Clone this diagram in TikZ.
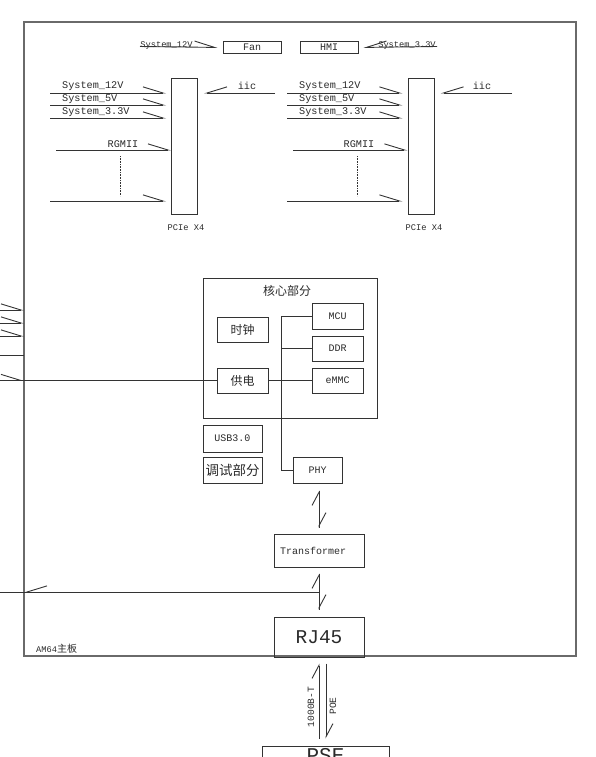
\documentclass[tikz,border=0pt]{standalone}
\usepackage{fontspec}
\setmonofont{Liberation Mono}
\newfontfamily\cjkfont{Noto Sans CJK SC}
\usetikzlibrary{arrows.meta}
\definecolor{linec}{HTML}{333333}
\definecolor{framec}{HTML}{6A6A6A}
\definecolor{txtc}{HTML}{2A2A2A}
\tikzset{
  wire/.style={draw=linec, line width=0.9pt},
  feed/.style={wire, -{Straight Barb[harpoon, length=20pt, angle'=34]}},
  feedr/.style={wire, -{Straight Barb[harpoon, swap, length=20pt, angle'=34]}},
  vfeed/.style={wire, -{Straight Barb[harpoon, length=13pt, angle'=56]}},
  box/.style={draw=linec, line width=1pt, inner sep=0pt, text=txtc,
    font=\ttfamily\fontsize{10}{12}\selectfont},
  lbl/.style={inner sep=0pt, text=txtc, font=\ttfamily\fontsize{10.2}{12}\selectfont},
  small/.style={lbl, font=\ttfamily\fontsize{8.7}{10}\selectfont},
  cjk/.style={inner sep=0pt, text=txtc, font=\cjkfont\fontsize{12}{14}\selectfont},
}
\begin{document}
\begin{tikzpicture}[x=1pt, y=-1pt]
  \useasboundingbox (0,0) rectangle (596,757);
  % Board outline
  \draw[framec, line width=1.6pt] (24,22) rectangle (576,656);
  \node[anchor=west, small] (board) at (36,649) {AM64{\cjkfont\fontsize{10}{12}\selectfont 主板}};
  % Fan and HMI
  \node[box, minimum width=58, minimum height=12] (fan) at (252,47.5) {Fan};
  \node[box, minimum width=58, minimum height=12] (hmi) at (329,47.5) {HMI};
  \node[small] (fanpwr) at (166.5,45) {System\_12V};
  \node[small] (hmipwr) at (407,45) {System\_3.3V};
  \draw[feed, shorten >=5pt] (140,46.5) -- (fan.west);
  \draw[feedr, shorten >=5pt] (437,46.5) -- (hmi.east);
  % PCIe slots
  \node[box, minimum width=26, minimum height=135] (pcieL) at (184.5,146.5) {};
  \node[box, minimum width=26, minimum height=135] (pcieR) at (421,146.5) {};
  \node[small] (pcieLlbl) at (186,228) {PCIe X4};
  \node[small] (pcieRlbl) at (424,228) {PCIe X4};
  \foreach \s/\x in {L/50, R/287} {
    \foreach \y in {93,105,118,201}
      \draw[feed, shorten >=5pt] (\x,\y) -- (pcie\s.west |- 0,\y);
    \draw[feed] (\x+6,150) -- (pcie\s.west |- 0,150);
    \draw[feedr, shorten >=6pt] (\x+225,93) -- (pcie\s.east |- 0,93);
  }
  \foreach \x/\s in {62/L, 299/R} {
    \node[lbl, anchor=west] (v12\s) at (\x,86) {System\_12V};
    \node[lbl, anchor=west] (v5\s) at (\x,99) {System\_5V};
    \node[lbl, anchor=west] (v33\s) at (\x,112) {System\_3.3V};
  }
  \node[lbl] (rgmiiL) at (123,144) {RGMII};
  \node[lbl] (rgmiiR) at (359,144) {RGMII};
  \node[lbl] (iicL) at (247,86) {iic};
  \node[lbl] (iicR) at (482,86) {iic};
  \draw[linec, densely dotted, line width=0.6pt] (120,156) -- (120,196);
  \draw[linec, densely dotted, line width=0.6pt] (357,156) -- (357,196);
  % Core part
  \node[box, minimum width=174, minimum height=140] (core) at (290,348) {};
  \node[cjk] (corelbl) at (287,291) {核心部分};
  \node[box, minimum width=51, minimum height=25, font=\cjkfont\fontsize{12}{14}\selectfont] (clock) at (242.5,329.5) {时钟};
  \node[box, minimum width=51, minimum height=25, font=\cjkfont\fontsize{12}{14}\selectfont] (power) at (242.5,380.5) {供电};
  \node[box, minimum width=51, minimum height=26] (mcu) at (337.5,316) {MCU};
  \node[box, minimum width=51, minimum height=25] (ddr) at (337.5,348.5) {DDR};
  \node[box, minimum width=51, minimum height=25] (emmc) at (337.5,380.5) {eMMC};
  \node[box, minimum width=59, minimum height=27] (usb) at (232.5,438.5) {USB3.0};
  \node[box, minimum width=59, minimum height=26, font=\cjkfont\fontsize{13.5}{15}\selectfont] (debug) at (232.5,470) {调试部分};
  \node[box, minimum width=49, minimum height=26] (phy) at (317.5,470) {PHY};
  \coordinate (bus) at (281,0);
  \draw[wire] (mcu.west) -| (phy.west -| bus) -- (phy.west);
  \draw[wire] (ddr.west) -- (ddr.west -| bus);
  \draw[wire] (power.east) -- (emmc.west);
  % Side inputs
  \foreach \y in {310,323,336}
    \draw[feed] (0,\y) -- (24,\y);
  \draw[wire] (0,355) -- (24,355);
  \draw[wire] (0,380.5) -- (power.west);
  \draw[feed] (0,380.5) -- (24,380.5);
  % Ethernet path
  \node[box, minimum width=90, minimum height=33, text width=78pt, align=left] (trans) at (319,550.5) {Transformer};
  \node[box, minimum width=90, minimum height=40, font=\ttfamily\fontsize{19.5}{22}\selectfont] (rj45) at (319,637) {RJ45};
  \node[box, minimum width=127, minimum height=20, font=\ttfamily\fontsize{21}{24}\selectfont] (pse) at (325.5,756) {PSE};
  \draw[vfeed, shorten <=6pt, shorten >=7pt] (trans.north) -- (trans.north |- phy.south);
  \draw[vfeed, shorten <=7pt, shorten >=6pt] (trans.north |- phy.south) -- (trans.north);
  \draw[vfeed, shorten <=7pt, shorten >=6pt] (rj45.north) -- (trans.south);
  \draw[vfeed, shorten <=6pt, shorten >=7pt] (trans.south) -- (rj45.north);
  \coordinate (tap) at (319,592);
  \draw[wire] (tap) -- (0,592);
  \draw[feedr] (tap) -- (24,592);
  \draw[vfeed, shorten <=7pt, shorten >=6pt] (pse.north -| rj45.south) -- (rj45.south);
  \draw[vfeed, shorten <=6pt, shorten >=7pt] ([xshift=7pt]rj45.south) -- ([xshift=7pt]pse.north -| rj45.south);
  \node[small, rotate=90, font=\ttfamily\fontsize{9.6}{11}\selectfont] (lan) at (311,707) {1000B-T};
  \node[small, rotate=90, font=\ttfamily\fontsize{9.6}{11}\selectfont] (poe) at (333,706) {POE};
\end{tikzpicture}
\end{document}
